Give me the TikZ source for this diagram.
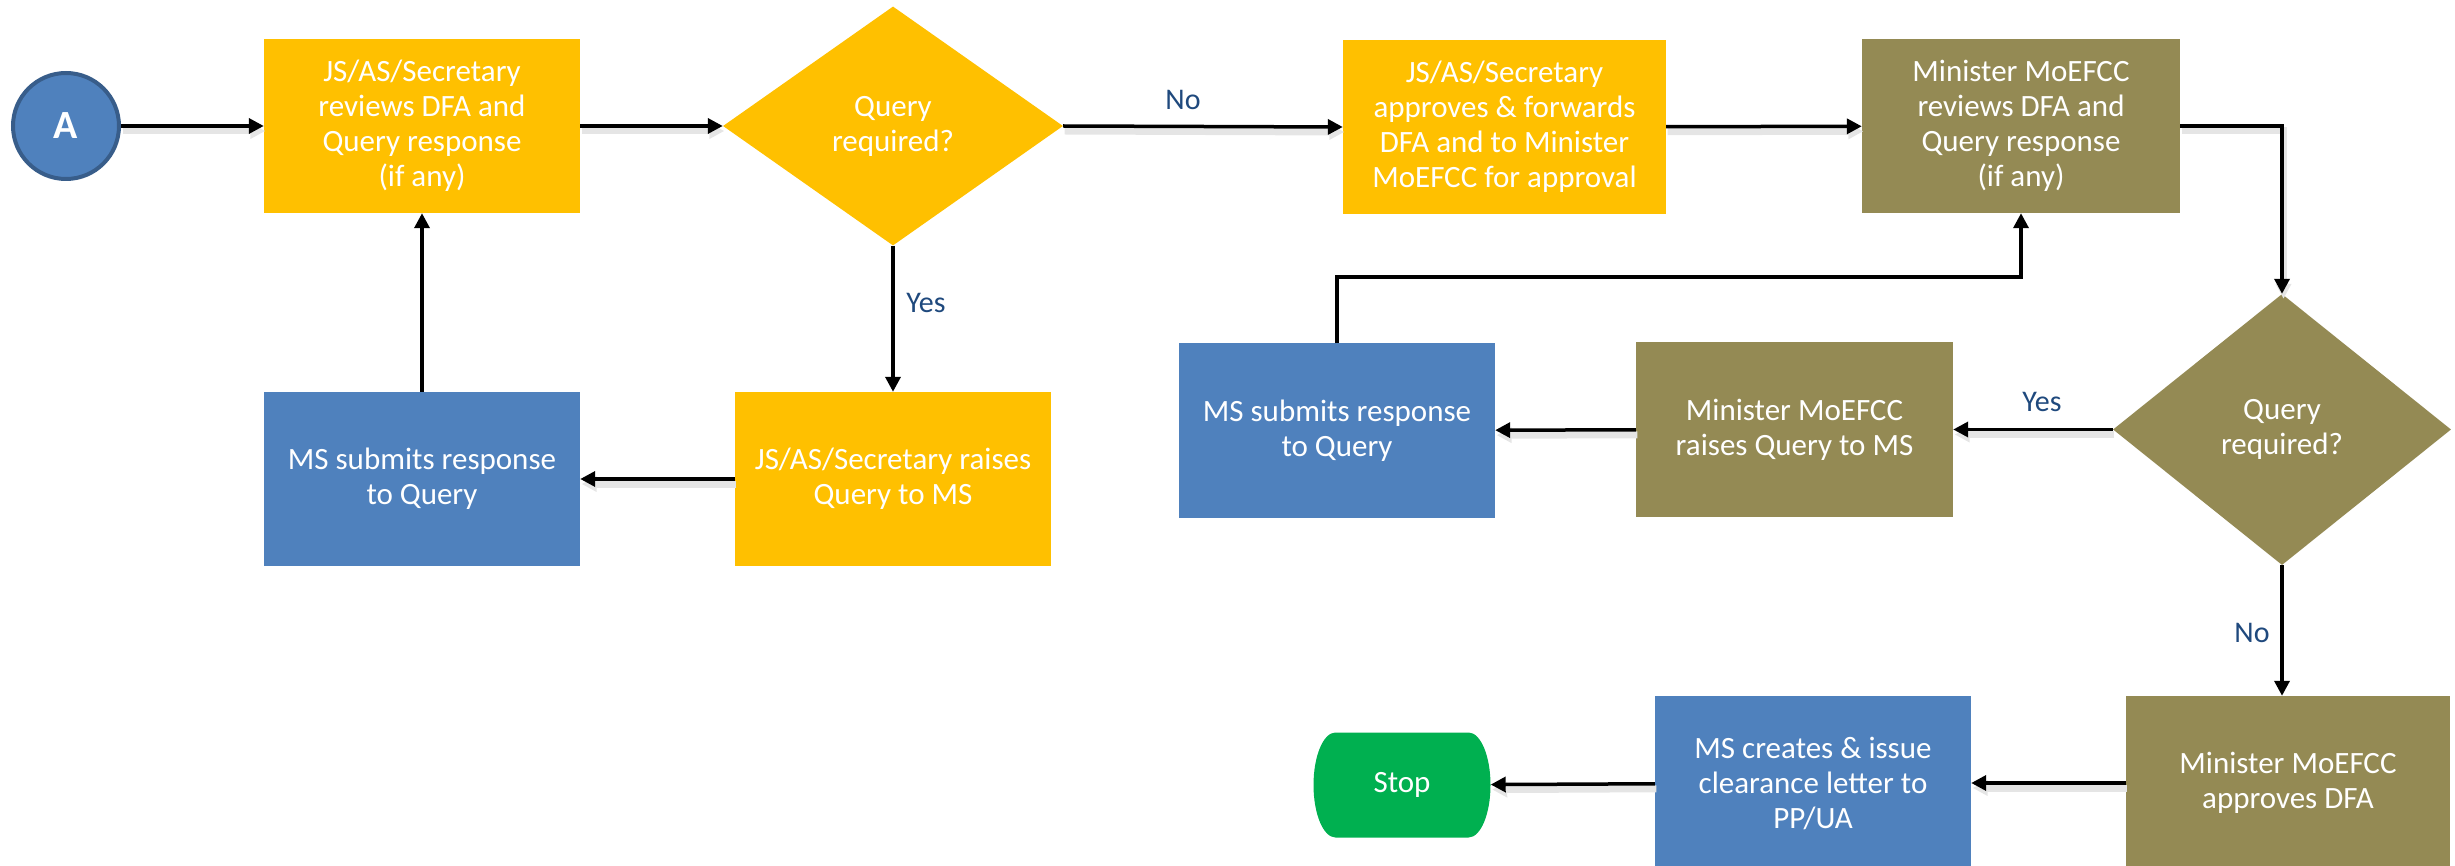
\documentclass[tikz,border=0pt]{standalone}
\usepackage{fontspec}
\setmainfont{Carlito}
\usetikzlibrary{shapes.geometric,arrows.meta}
\definecolor{cyel}{HTML}{FFC000}
\definecolor{cblu}{HTML}{4F81BD}
\definecolor{colv}{HTML}{948A54}
\definecolor{cgrn}{HTML}{00B050}
\definecolor{cdk}{HTML}{385D8A}
\definecolor{clab}{HTML}{1F497D}
\begin{document}
\begin{tikzpicture}[x=1pt,y=-1pt,
  box/.style={rectangle, minimum width=316pt, minimum height=174pt, inner sep=0pt,
    text=white, align=center, font=\fontsize{31}{35}\selectfont},
  yel/.style={box, fill=cyel},
  blu/.style={box, fill=cblu},
  olv/.style={box, fill=colv},
  dia/.style={diamond, inner sep=0pt, aspect=1.4, text=white, align=center,
    font=\fontsize{31}{35}\selectfont},
  arrv/.style={-{Triangle[length=15pt,width=15pt]}, line width=3.5pt},
  arr/.style={arrv,
    preaction={draw=black!10, line width=7pt, transform canvas={shift={(1.5pt,-5pt)}}}},
  lab/.style={text=clab, font=\fontsize{30}{34}\selectfont, inner sep=0pt}
]
\useasboundingbox (0,0) rectangle (2455,866);
\clip (0,0) rectangle (2455,866);

% start
\node[circle, fill=cblu, draw=cdk, line width=4pt, minimum size=106pt, inner sep=0pt,
  text=white, font=\fontsize{40}{44}\selectfont\bfseries] (A) at (66,126) {A};

% top row
\node[yel] (b1) at (422,126) {JS/AS/Secretary\\reviews DFA and\\Query response\\(if any)};
\node[dia, fill=cyel, minimum width=340pt, minimum height=239pt] (d1) at (893,126) {Query\\required?};
\node[yel, minimum width=323pt] (b2) at (1504.5,127) {JS/AS/Secretary\\approves \& forwards\\DFA and to Minister\\MoEFCC for approval};
\node[olv, minimum width=318pt] (b3) at (2021,126) {Minister MoEFCC\\reviews DFA and\\Query response\\(if any)};

% middle row left
\node[blu] (b7) at (422,479) {MS submits response\\to Query};
\node[yel] (b6) at (893,479) {JS/AS/Secretary raises\\Query to MS};

% middle row right
\node[blu] (b5) at (1337,430.5) {MS submits response\\to Query};
\node[olv, minimum width=317pt, minimum height=175pt] (b4) at (1794.5,429.5) {Minister MoEFCC\\raises Query to MS};
\node[dia, fill=colv, minimum width=338pt, minimum height=271pt] (d2) at (2282,429.5) {Query\\required?};

% bottom row
\node[olv, minimum width=324pt] (b8) at (2288,783) {Minister MoEFCC\\approves DFA};
\node[blu] (b9) at (1813,783) {MS creates \& issue\\clearance letter to\\PP/UA};
\fill[cgrn] (1335.5,732.5) -- (1468.5,732.5)
  arc[start angle=-90, end angle=90, x radius=22, y radius=52.5]
  -- (1335.5,837.5)
  arc[start angle=90, end angle=270, x radius=22, y radius=52.5] -- cycle;
\node[minimum width=177pt, minimum height=105pt, inner sep=0pt, text=white,
  font=\fontsize{31}{35}\selectfont] (stop) at (1402,785) {Stop};

% connectors
\draw[arr] (A) -- (b1);
\draw[arr] (b1) -- (d1);
\draw[arr] (d1.east) -- (b2.west);
\draw[arr] (b2) -- (b3);
\draw[arr] (b3.east) -| (d2.north);
\draw[arrv] (d1.south) -- (b6.north);
\draw[arr] (b6) -- (b7);
\draw[arrv] (b7) -- (b1);
\draw[arr] (d2.west) -- (b4.east);
\draw[arr] (b4) -- (b5);
\coordinate (fb) at (2021,277);
\draw[arrv] (b5.north) |- (fb) -- (b3.south);
\draw[arrv] (d2.south) -- (d2.south |- b8.north);
\draw[arr] (b8) -- (b9);
\draw[arr] (b9) -- (stop);

% labels
\node[lab] (lno1) at (1183,100) {No};
\node[lab] (lyes1) at (926,303) {Yes};
\node[lab] (lyes2) at (2042,402) {Yes};
\node[lab] (lno2) at (2252,633) {No};
\end{tikzpicture}
\end{document}
